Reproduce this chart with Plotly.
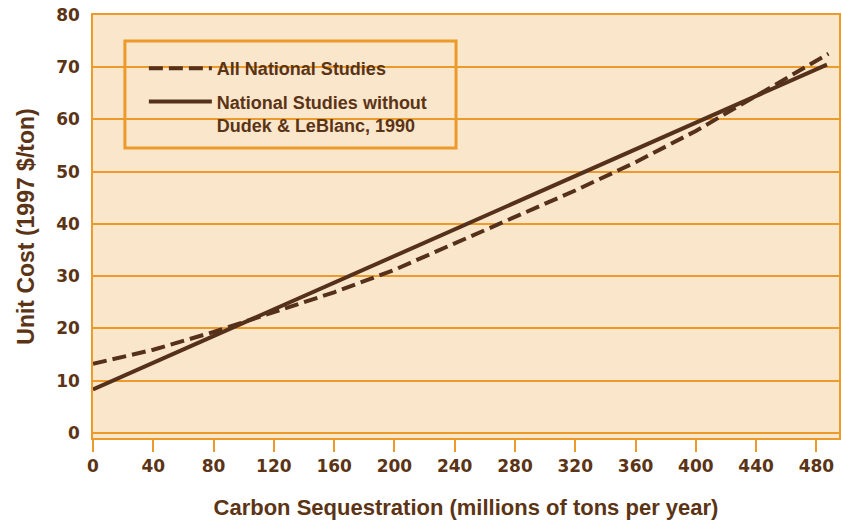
import plotly.graph_objects as go

# Data
x_all = [0, 40, 80, 120, 160, 200, 240, 280, 320, 360, 400, 440, 488]
y_all = [13.2, 15.9, 19.3, 23.0, 26.9, 31.2, 36.2, 41.3, 46.4, 51.8, 57.8, 64.5, 72.6]

x_wo = [0, 487]
y_wo = [8.3, 70.5]

x_ticks = [0, 40, 80, 120, 160, 200, 240, 280, 320, 360, 400, 440, 480]
y_ticks = [0, 10, 20, 30, 40, 50, 60, 70, 80]

BG = "#fae6cb"
ORANGE = "#ec9a29"
BROWN = "#55301b"
TEXT = "#5b3416"
FONT = "Liberation Sans"

fig = go.Figure()
fig.add_trace(go.Scatter(
    x=x_all, y=y_all, mode="lines", name="All National Studies",
    line=dict(color=BROWN, width=4, dash="14px,6px"), legendgroup="a",
))
fig.add_trace(go.Scatter(
    x=x_wo, y=y_wo, mode="lines",
    name="National Studies without<br>Dudek & LeBlanc, 1990",
    line=dict(color=BROWN, width=4), legendgroup="b",
))

W, H = 842, 521
L, R, T, B = 93, 1, 15, 83
pw, ph = W - L - R, H - T - B

def px_x(p):
    return (p - L) / pw

def px_y(p):
    return (H - B - p) / ph

fig.update_layout(
    width=W, height=H,
    margin=dict(l=L, r=R, t=T, b=B),
    paper_bgcolor="white",
    plot_bgcolor=BG,
    font=dict(family=FONT, color=TEXT, size=18, weight="bold"),
    showlegend=True,
    legend=dict(
        x=px_x(144), y=px_y(50), xanchor="left", yanchor="top",
        bgcolor="rgba(0,0,0,0)", borderwidth=0,
        font=dict(family=FONT, size=18, color=TEXT, weight="bold"),
        itemwidth=63, tracegroupgap=7, valign="top",
    ),
    shapes=[dict(
        type="rect", xref="paper", yref="paper",
        x0=px_x(125), x1=px_x(457), y0=px_y(148), y1=px_y(41),
        line=dict(color=ORANGE, width=3), fillcolor=BG, layer="below",
    )],
)

fig.update_xaxes(
    range=[0, 495], tickvals=x_ticks, showgrid=False, zeroline=False,
    showline=True, mirror=True, linecolor=ORANGE, linewidth=1.5,
    ticks="outside", ticklen=12, tickwidth=1.5, tickcolor=ORANGE,
    tickfont=dict(family="DejaVu Sans", size=17, color=TEXT, weight="bold"),
    title=dict(text="Carbon Sequestration (millions of tons per year)",
               font=dict(family=FONT, size=22, color=TEXT, weight="bold"),
               standoff=24),
)
fig.update_yaxes(
    range=[-1, 80], tickvals=y_ticks, showgrid=True, gridcolor=ORANGE, gridwidth=1.5,
    zeroline=False, showline=True, mirror=True, linecolor=ORANGE, linewidth=1.5,
    ticks="", ticklabelstandoff=8,
    tickfont=dict(family="DejaVu Sans", size=17, color=TEXT, weight="bold"),
    title=dict(text="Unit Cost (1997 $/ton)",
               font=dict(family=FONT, size=23, color=TEXT, weight="bold"),
               standoff=15),
)

fig.write_html("out.html", config={"displayModeBar": False},
               post_script="document.body.style.margin='0';")
